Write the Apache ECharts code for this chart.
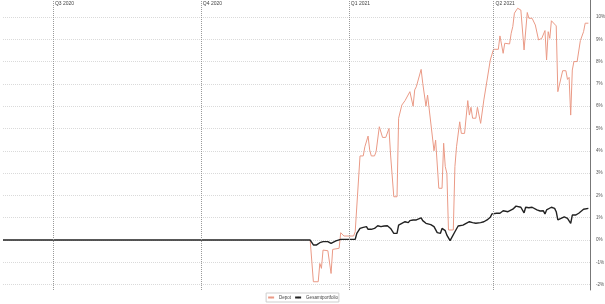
<!DOCTYPE html>
<html>
<head>
<meta charset="utf-8">
<script src="https://cdn.jsdelivr.net/npm/echarts@6/dist/echarts.min.js"></script>
<style>
html,body{margin:0;padding:0;background:#fff;}
#c{width:605px;height:304px;}
</style>
</head>
<body>
<div id="c"></div>
<script>
const seriesNames = ['Depot', 'Gesamtportfolio'];

const depotDates = ['2020-12-08','2020-12-10','2020-12-13','2020-12-14','2020-12-15','2020-12-16','2020-12-17','2020-12-19','2020-12-21','2020-12-22','2020-12-23','2020-12-26','2020-12-27','2020-12-29',
'2021-01-04','2021-01-05','2021-01-08','2021-01-10','2021-01-11','2021-01-12','2021-01-13','2021-01-14','2021-01-15','2021-01-17','2021-01-18','2021-01-20','2021-01-21','2021-01-22','2021-01-24','2021-01-26','2021-01-27','2021-01-28','2021-01-29','2021-01-31',
'2021-02-01','2021-02-02','2021-02-03','2021-02-05','2021-02-06','2021-02-08','2021-02-10','2021-02-11','2021-02-12','2021-02-13','2021-02-15','2021-02-16','2021-02-18','2021-02-19','2021-02-20','2021-02-23','2021-02-24','2021-02-26','2021-02-28',
'2021-03-01','2021-03-02','2021-03-03','2021-03-04','2021-03-07','2021-03-08','2021-03-09','2021-03-11','2021-03-12','2021-03-14','2021-03-16','2021-03-17','2021-03-18','2021-03-19','2021-03-21','2021-03-22','2021-03-23','2021-03-24','2021-03-26','2021-03-27','2021-03-28','2021-03-30',
'2021-04-01','2021-04-04','2021-04-05','2021-04-07','2021-04-08','2021-04-09','2021-04-11','2021-04-12','2021-04-13','2021-04-14','2021-04-16','2021-04-17','2021-04-18','2021-04-20','2021-04-22','2021-04-23','2021-04-25','2021-04-27','2021-04-29',
'2021-05-01','2021-05-02','2021-05-03','2021-05-04','2021-05-05','2021-05-06','2021-05-07','2021-05-08','2021-05-10','2021-05-11','2021-05-12','2021-05-14','2021-05-16','2021-05-17','2021-05-18','2021-05-19','2021-05-20','2021-05-21','2021-05-23','2021-05-25','2021-05-27','2021-05-28','2021-05-30'];
const depotValues = [0,-1.87,-1.87,-1.05,-1.27,-0.45,-0.52,-0.48,-1.5,-0.42,-0.37,-0.37,0.33,0.18,
0.18,0.37,3.77,3.77,4.18,4.2,4.66,4.04,3.77,3.77,3.96,5.08,5.08,4.6,4.6,5.0,3.81,3.86,1.94,1.94,
5.46,5.38,6.05,6.25,6.28,6.65,6.0,6.73,6.87,6.87,7.65,7.03,6.0,6.5,6.49,4.0,4.48,2.32,2.32,
4.34,3.29,2.99,0.45,0.45,3.29,4.18,5.3,4.78,4.78,6.25,5.6,5.95,5.46,5.46,5.95,5.9,5.23,6.28,6.31,7.17,8.07,
8.55,8.55,9.15,8.37,8.82,8.85,8.79,9.27,9.57,10.17,10.39,10.43,10.31,8.52,10.2,9.94,9.94,9.64,8.97,
9.04,9.1,9.39,8.07,9.34,9.04,9.83,9.83,9.6,6.65,6.61,7.59,7.59,7.2,7.29,5.6,7.62,8.0,8.0,8.94,9.34,9.72,9.72];

const totalDates = ['2020-05-31','2020-12-08','2020-12-10','2020-12-12','2020-12-14','2020-12-16','2020-12-19','2020-12-21','2020-12-22','2020-12-24','2020-12-27',
'2021-01-05','2021-01-06','2021-01-08','2021-01-10','2021-01-12','2021-01-13','2021-01-15','2021-01-17','2021-01-19','2021-01-21','2021-01-23','2021-01-25','2021-01-27','2021-01-29','2021-01-31',
'2021-02-01','2021-02-03','2021-02-05','2021-02-07','2021-02-08','2021-02-09','2021-02-10','2021-02-12','2021-02-13','2021-02-15','2021-02-16','2021-02-18','2021-02-19','2021-02-21','2021-02-23','2021-02-25','2021-02-27','2021-02-28',
'2021-03-02','2021-03-03','2021-03-05','2021-03-06','2021-03-08','2021-03-10','2021-03-13','2021-03-15','2021-03-17','2021-03-19','2021-03-21','2021-03-24','2021-03-26','2021-03-28','2021-03-30','2021-03-31',
'2021-04-03','2021-04-04','2021-04-05','2021-04-07','2021-04-10','2021-04-11','2021-04-13','2021-04-15','2021-04-18','2021-04-20','2021-04-21','2021-04-23','2021-04-25','2021-04-28','2021-04-30',
'2021-05-02','2021-05-03','2021-05-04','2021-05-05','2021-05-07','2021-05-09','2021-05-10','2021-05-11','2021-05-13','2021-05-15','2021-05-17','2021-05-19','2021-05-20','2021-05-22','2021-05-24','2021-05-27','2021-05-28','2021-05-30'];
const totalValues = [0,0,-0.22,-0.22,-0.12,-0.07,-0.07,-0.15,-0.07,-0.04,0.03,
0.03,0.3,0.52,0.57,0.6,0.48,0.48,0.52,0.64,0.6,0.63,0.64,0.52,0.3,0.3,
0.67,0.75,0.82,0.78,0.87,0.82,0.9,0.9,0.93,0.99,0.87,0.75,0.78,0.69,0.6,0.33,0.3,0.52,
0.42,0.22,-0.03,-0.03,0.37,0.63,0.67,0.75,0.82,0.78,0.75,0.78,0.82,0.9,1.02,1.17,
1.2,1.27,1.2,1.31,1.27,1.3,1.38,1.52,1.47,1.22,1.47,1.45,1.47,1.35,1.3,
1.31,1.17,1.35,1.35,1.47,1.42,1.27,0.9,0.97,1.04,0.97,0.75,1.12,1.12,1.2,1.38,1.42,1.42];

const quarterDates = ['2020-07-01','2020-10-01','2021-01-01','2021-04-01'];
const quarterLabels = ['Q3 2020','Q4 2020','Q1 2021','Q2 2021'];

const yMin = -2.24, yMax = 10.76;

const chart = echarts.init(document.getElementById('c'), null, {renderer:'canvas'});
const fontFamily = 'Liberation Sans, Arial, sans-serif';

chart.setOption({
  animation: false,
  grid: {left: 3, right: 15, top: 0, bottom: 14, containLabel: false, outerBoundsMode: 'none'},
  legend: {
    data: seriesNames,
    bottom: 2,
    left: 'center',
    itemWidth: 6,
    itemHeight: 2,
    itemGap: 3,
    padding: [2, 1],
    borderColor: '#cfcfcf',
    borderWidth: 1,
    textStyle: {fontSize: 4.5, color: '#444', fontFamily}
  },
  xAxis: {
    type: 'time',
    min: '2020-05-31',
    max: '2021-05-31',
    axisLine: {show: false},
    axisTick: {show: false},
    axisLabel: {show: false},
    splitLine: {show: false}
  },
  yAxis: {
    type: 'value',
    position: 'right',
    min: yMin,
    max: yMax,
    splitNumber: 13,
    axisLine: {show: true, lineStyle: {color: '#777', width: 1}},
    axisTick: {show: false},
    axisLabel: {
      fontSize: 4.6, color: '#555', fontFamily, margin: 6,
      showMinLabel: false, showMaxLabel: false,
      formatter: v => (Math.abs(v - Math.round(v)) < 1e-6 ? Math.round(v) + '%' : '')
    },
    splitLine: {show: true, showMinLine: false, showMaxLine: false, lineStyle: {color: '#dadada', type: 'dotted', width: 1}}
  },
  series: [
    {
      name: 'Depot',
      type: 'line',
      showSymbol: false,
      symbol: 'none',
      color: '#ea9a86',
      lineStyle: {width: 1, color: '#ea9a86'},
      data: depotDates.map((d, i) => [d, depotValues[i]]),
      z: 2
    },
    {
      name: 'Gesamtportfolio',
      type: 'line',
      showSymbol: false,
      symbol: 'none',
      color: '#222',
      lineStyle: {width: 1.4, color: '#222'},
      data: totalDates.map((d, i) => [d, totalValues[i]]),
      z: 3,
      markLine: {
        silent: true,
        symbol: ['none', 'none'],
        label: {show: false},
        lineStyle: {color: '#9a9a9a', type: 'dotted', width: 1},
        data: quarterDates.map(d => ({xAxis: d}))
      },
      markPoint: {
        silent: true,
        symbol: 'rect',
        symbolSize: 0.1,
        data: quarterDates.map((d, i) => ({
          coord: [d, yMax],
          label: {
            show: true, position: 'right', offset: [-3, 4],
            formatter: quarterLabels[i],
            fontSize: 5, color: '#444', fontFamily
          }
        }))
      }
    }
  ]
});
</script>
</body>
</html>
